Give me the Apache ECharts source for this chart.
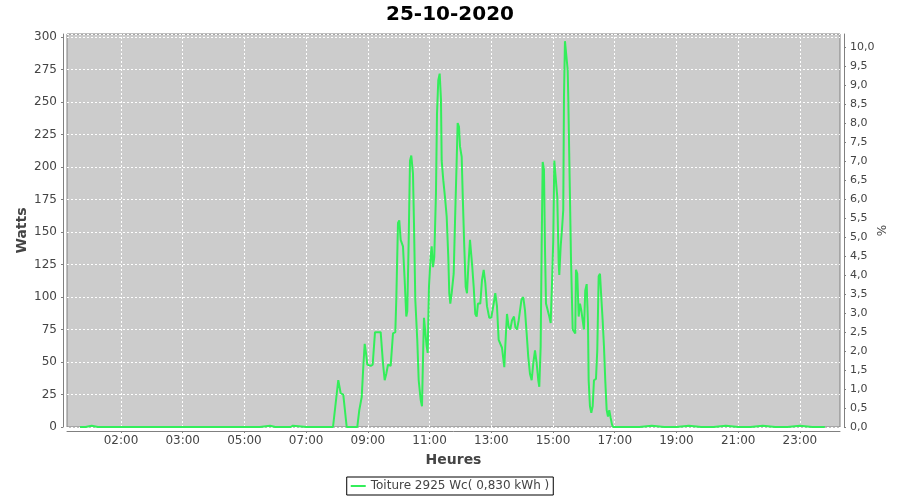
<!DOCTYPE html>
<html>
<head>
<meta charset="utf-8">
<script src="https://cdn.jsdelivr.net/npm/echarts@6/dist/echarts.min.js"></script>
<style>html,body{margin:0;padding:0;background:#fff}#c{width:900px;height:500px}</style>
</head>
<body>
<div id="c"></div>
<script>
// Time in decimal hours UTC (25-10-2020, DST change CEST -> CET at 01:00 UTC)
const timesUTC = [
  -1.33,-1.15,-0.95,-0.75,-0.5,-0.25,0,0.5,1,1.5,2,2.5,3,3.5,4,4.5,4.83,5,5.5,5.57,6,6.5,6.87,
  7.041,7.074,7.119,7.203,7.314,7.657,7.722,7.800,7.851,7.897,7.939,7.981,8.091,8.156,8.231,8.338,
  8.415,8.490,8.545,8.597,8.652,8.739,8.814,8.889,8.921,8.976,9.018,9.063,9.138,9.193,9.245,9.277,
  9.323,9.365,9.407,9.462,9.494,9.537,9.601,9.647,9.711,9.754,9.786,9.818,9.851,9.906,9.938,9.980,
  10.035,10.068,10.110,10.152,10.207,10.240,10.282,10.327,10.369,10.392,10.444,10.499,10.554,10.606,
  10.638,10.671,10.716,10.781,10.823,10.878,10.910,10.953,10.985,11.040,11.072,11.124,11.170,11.212,
  11.254,11.309,11.341,11.384,11.429,11.481,11.526,11.568,11.643,11.698,11.753,11.805,11.860,11.934,
  11.999,12.077,12.129,12.184,12.239,12.291,12.346,12.421,12.453,12.508,12.563,12.615,12.670,12.735,
  12.777,12.832,12.887,12.978,13.036,13.091,13.146,13.198,13.253,13.308,13.360,13.416,13.471,13.522,
  13.555,13.600,13.632,13.665,13.707,13.739,13.772,13.836,13.879,13.924,13.966,14.008,14.041,14.096,
  14.138,14.183,14.203,14.248,14.290,14.332,14.355,14.387,14.430,14.475,14.494,14.549,14.581,14.637,
  14.721,14.744,14.786,14.831,14.874,14.916,14.961,15.003,15.045,15.091,15.133,15.155,15.197,15.240,
  15.285,15.327,15.392,15.434,15.479,15.522,15.564,15.609,15.651,15.693,15.739,15.781,15.823,15.868,
  15.910,15.943,
  16.3,16.8,17.2,17.6,18,18.4,18.8,19.2,19.6,20,20.4,20.8,21.2,21.6,22,22.4,22.81
];
const watts = [
  0,0,1,0,0,0,0,0,0,0,0,0,0,0,0,0,1,0,0,1,0,0,0,
  36,37,26,25,0,0,13,23,46,64,57,48,47,48,73,73,
  73,49,36,41,48,47,72,73,98,157,159,144,139,113,85,89,
  144,205,209,195,157,98,67,36,21,16,52,84,83,62,57,108,
  131,139,123,131,180,241,267,272,252,205,190,177,162,131,
  103,95,103,118,157,205,234,231,216,208,180,139,108,103,
  123,144,144,123,108,87,85,95,95,113,121,111,93,84,
  84,95,103,93,67,67,61,46,62,87,77,75,82,85,
  77,75,82,98,100,90,72,54,41,36,49,59,49,36,
  31,62,139,204,198,139,95,96,85,80,110,144,205,205,
  177,126,117,139,152,167,254,297,298,275,254,177,131,75,
  72,121,118,85,95,90,82,75,105,110,80,36,16,11,
  16,36,37,59,116,118,100,82,62,36,13,8,13,7,
  2,0,
  0,0,1,0,0,1,0,0,1,0,0,1,0,0,1,0,0
];
const xTicksUTC = [0,2,4,6,8,10,12,14,16,18,20,22];
const xTickLabels = ['02:00','03:00','05:00','07:00','09:00','11:00','13:00','15:00','17:00','19:00','21:00','23:00'];
const titleText = '25-10-2020';
const seriesName = 'Toiture 2925 Wc( 0,830 kWh )';
const peakPower = 2925; // Wc, for the % axis

const leftMax = 302.5;
const data = timesUTC.map((t, i) => [t, watts[i]]);
const font = 'DejaVu Sans';
const gridStyle = {color: '#ffffff', type: [2, 2], width: 1};
const chart = echarts.init(document.getElementById('c'), null, {renderer: 'canvas'});
chart.setOption({
  backgroundColor: '#ffffff',
  animation: false,
  title: {
    text: titleText, left: 'center', top: 0,
    textStyle: {fontFamily: font, fontSize: 20, fontWeight: 'bold', color: '#000'}
  },
  legend: {
    data: [{name: seriesName, icon: 'rect'}],
    left: 'center', top: 477,
    borderColor: '#000', borderWidth: 1, padding: [3, 4, 3, 4],
    itemWidth: 15, itemHeight: 2,
    textStyle: {fontFamily: font, fontSize: 12, color: '#444'}
  },
  grid: {
    left: 67, right: 60, top: 34, bottom: 73,
    show: true, backgroundColor: '#cccccc', borderColor: '#808080', borderWidth: 1
  },
  xAxis: {
    type: 'value', min: -1.75, max: 23.30, offset: 4,
    name: 'Heures', nameLocation: 'middle', nameGap: 22, nameMoveOverlap: false,
    nameTextStyle: {fontFamily: font, fontSize: 14, fontWeight: 'bold', color: '#444'},
    axisLine: {show: true, onZero: false, lineStyle: {color: '#808080'}},
    axisTick: {show: true, length: 2, lineStyle: {color: '#808080'}, customValues: xTicksUTC},
    axisLabel: {
      fontFamily: font, fontSize: 12, color: '#444', margin: 4,
      customValues: xTicksUTC,
      formatter: v => xTickLabels[xTicksUTC.indexOf(Math.round(v))] || ''
    },
    splitLine: {show: false}
  },
  yAxis: [{
    type: 'value', min: 0, max: leftMax, interval: 25, offset: 4, position: 'left',
    name: 'Watts', nameLocation: 'middle', nameGap: 34, nameMoveOverlap: false,
    nameTextStyle: {fontFamily: font, fontSize: 14, fontWeight: 'bold', color: '#444'},
    axisLine: {show: true, onZero: false, lineStyle: {color: '#808080'}},
    axisTick: {show: true, length: 2, lineStyle: {color: '#808080'}},
    axisLabel: {fontFamily: font, fontSize: 12, color: '#444', margin: 6, showMaxLabel: false,
      formatter: v => (v % 25 === 0 ? String(v) : '')},
    splitLine: {show: true, lineStyle: gridStyle}
  }, {
    type: 'value', min: 0, max: leftMax / peakPower * 100, interval: 0.5, offset: 4, position: 'right',
    name: '%', nameLocation: 'middle', nameGap: 33, nameMoveOverlap: false,
    nameTextStyle: {fontFamily: font, fontSize: 12, color: '#444'},
    axisLine: {show: true, onZero: false, lineStyle: {color: '#808080'}},
    axisTick: {show: true, length: 2, lineStyle: {color: '#808080'}},
    axisLabel: {fontFamily: font, fontSize: 11, color: '#444', margin: 6, showMaxLabel: false,
      formatter: v => (Math.abs(v * 2 - Math.round(v * 2)) < 1e-6 ? v.toFixed(1).replace('.', ',') : '')},
    splitLine: {show: false}
  }],
  series: [{
    name: 'grid-x', type: 'line', data: [], z: 1, silent: true,
    markLine: {
      z: 1, silent: true, symbol: ['none', 'none'], animation: false,
      label: {show: false}, lineStyle: gridStyle, emphasis: {disabled: true},
      data: xTicksUTC.map(v => ({xAxis: v}))
    }
  }, {
    name: seriesName, type: 'line', data: data, yAxisIndex: 0, z: 3,
    showSymbol: false, symbol: 'none',
    itemStyle: {color: '#33ee5a'},
    lineStyle: {color: '#33ee5a', width: 2}
  }]
});
</script>
</body>
</html>
